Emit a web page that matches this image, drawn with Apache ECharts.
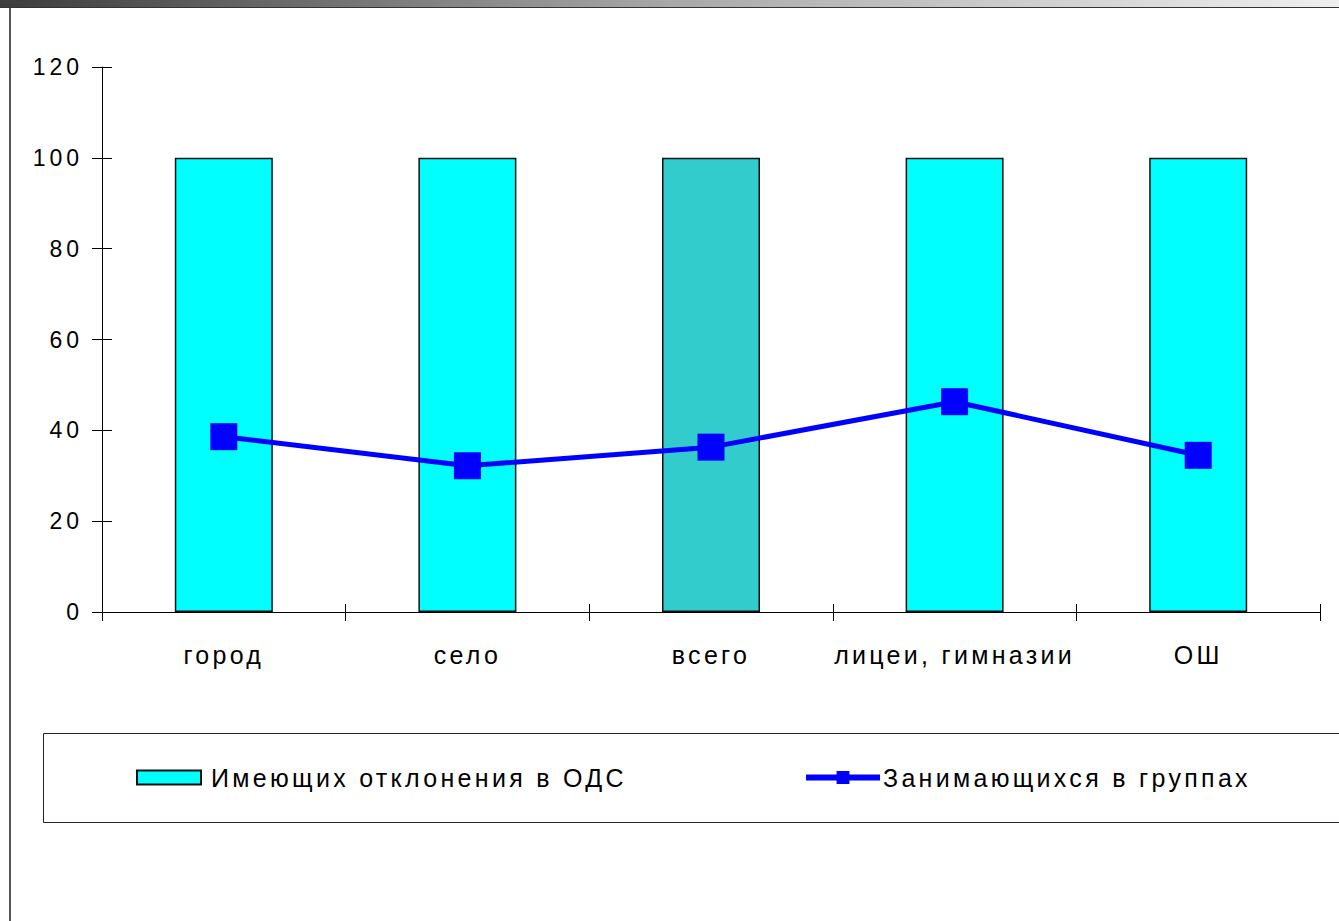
<!DOCTYPE html>
<html>
<head>
<meta charset="utf-8">
<script src="https://cdn.jsdelivr.net/npm/echarts@6/dist/echarts.min.js"></script>
<style>
  html, body { margin: 0; padding: 0; background: #fff; }
  #chart { width: 1339px; height: 921px; }
  /* wide tracking of the chart captions */
  #chart svg text { letter-spacing: 3.3px; }
  #chart svg text[text-anchor="end"] { letter-spacing: 4px; }
</style>
</head>
<body>
<div id="chart"></div>
<script>
// Категории и значения
const categories = ['город', 'село', 'всего', 'лицеи, гимназии', 'ОШ'];
const deviationValues = [100, 100, 100, 100, 100];
const groupValues = [38.6, 32.2, 36.3, 46.3, 34.5];
const yTicks = [0, 20, 40, 60, 80, 100, 120];

const seriesBarName = 'Имеющих отклонения в ОДС';
const seriesLineName = 'Занимающихся в группах';

const font = '"Liberation Sans", Arial, sans-serif';
const barColor = '#00FFFF';
const barTotalColor = '#33CCCC';
const lineColor = '#0000FF';

const chart = echarts.init(document.getElementById('chart'), null, { renderer: 'svg' });

const barData = deviationValues.map((v, i) => ({
  value: v,
  itemStyle: { color: categories[i] === 'всего' ? barTotalColor : barColor }
}));

const yMin = yTicks[0];
const yMax = yTicks[yTicks.length - 1];
const yStep = yTicks[1] - yTicks[0];

chart.setOption({
  backgroundColor: '#ffffff',
  animation: false,
  grid: { left: 102, right: 19, top: 67, bottom: 309, containLabel: false },
  legend: [
    {
      data: [seriesBarName],
      left: 136, top: 765,
      padding: 0,
      itemWidth: 64, itemHeight: 14,
      icon: 'rect',
      itemStyle: { borderColor: '#111', borderWidth: 2 },
      textStyle: { fontFamily: font, fontSize: 25, color: '#000', padding: [0, 0, 0, 5] },
      selectedMode: false
    },
    {
      data: [seriesLineName],
      left: 803, top: 765,
      padding: 0,
      itemWidth: 74, itemHeight: 16,
      lineStyle: { width: 6 },
      textStyle: { fontFamily: font, fontSize: 25, color: '#000', padding: [0, 0, 0, -2] },
      selectedMode: false
    }
  ],
  xAxis: [
    {
      type: 'category',
      data: categories,
      boundaryGap: true,
      axisLine: { lineStyle: { color: '#000', width: 1 } },
      axisTick: { show: true, length: 9, lineStyle: { color: '#000' } },
      axisLabel: { interval: 0, hideOverlap: false, fontFamily: font, fontSize: 25, color: '#000', margin: 30 }
    },
    {
      type: 'category',
      data: categories,
      position: 'bottom',
      boundaryGap: true,
      axisLine: { show: false },
      axisTick: { show: true, inside: true, length: 8, lineStyle: { color: '#000' } },
      axisLabel: { show: false }
    }
  ],
  yAxis: [
    {
      type: 'value',
      min: yMin, max: yMax, interval: yStep,
      axisLine: { show: true, lineStyle: { color: '#000', width: 1 } },
      axisTick: { show: true, length: 10, lineStyle: { color: '#000' } },
      splitLine: { show: false },
      axisLabel: { fontFamily: font, fontSize: 23, color: '#000', margin: 19 }
    },
    {
      type: 'value',
      min: yMin, max: yMax, interval: yStep,
      position: 'left',
      axisLine: { show: false },
      axisTick: { show: true, inside: true, length: 10, lineStyle: { color: '#000' } },
      splitLine: { show: false },
      axisLabel: { show: false }
    }
  ],
  series: [
    {
      name: seriesBarName,
      type: 'bar',
      data: barData,
      barWidth: 98,
      itemStyle: { color: barColor, borderColor: '#111', borderWidth: 1.5 },
      z: 2
    },
    {
      name: seriesLineName,
      type: 'line',
      data: groupValues,
      symbol: 'rect',
      symbolSize: 27,
      lineStyle: { color: lineColor, width: 5 },
      itemStyle: { color: lineColor },
      z: 3
    }
  ],
  graphic: [
    {
      type: 'rect',
      shape: { x: 0, y: 0, width: 1339, height: 7 },
      style: {
        fill: new echarts.graphic.LinearGradient(0, 0, 1, 0, [
          { offset: 0, color: '#3c3c3c' },
          { offset: 0.5, color: '#a8a8a8' },
          { offset: 1, color: '#efefef' }
        ])
      },
      silent: true
    },
    {
      type: 'line',
      shape: { x1: 0, y1: 7.5, x2: 1339, y2: 7.5 },
      style: { stroke: '#333', lineWidth: 1 },
      silent: true
    },
    {
      type: 'line',
      shape: { x1: 10, y1: 8, x2: 10, y2: 921 },
      style: { stroke: '#555', lineWidth: 2 },
      silent: true
    },
    {
      type: 'rect',
      shape: { x: 43.5, y: 733.5, width: 1320, height: 89 },
      style: { fill: 'none', stroke: '#222', lineWidth: 1 },
      silent: true
    }
  ]
});
</script>
</body>
</html>
